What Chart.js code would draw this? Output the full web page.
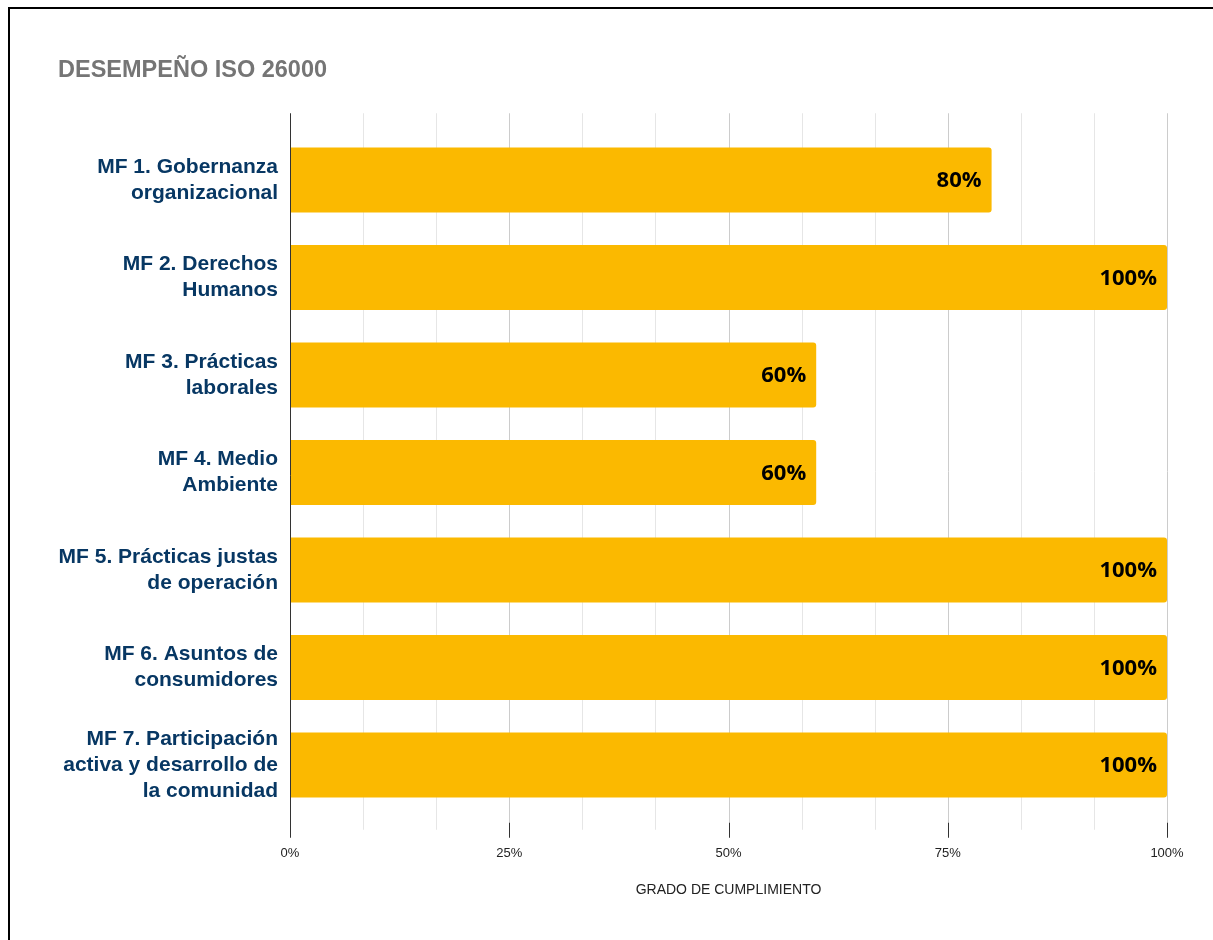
<!DOCTYPE html>
<html>
<head>
<meta charset="utf-8">
<script src="https://cdn.jsdelivr.net/npm/chart.js@4"></script>
<style>
    html, body { margin: 0; padding: 0; background: #fff; overflow: hidden; }
    #frame { position: absolute; left: 8px; top: 7px; width: 1300px; height: 1000px; border: 2px solid #000; }
    #wrap { position: absolute; left: 0; top: 0; width: 1213px; height: 940px; }
</style>
</head>
<body>
<div id="frame"></div>
<div id="wrap"><canvas id="chart"></canvas></div>
<script>
// Chart data
const categories = [
    ['MF 1. Gobernanza', 'organizacional'],
    ['MF 2. Derechos', 'Humanos'],
    ['MF 3. Prácticas', 'laborales'],
    ['MF 4. Medio', 'Ambiente'],
    ['MF 5. Prácticas justas', 'de operación'],
    ['MF 6. Asuntos de', 'consumidores'],
    ['MF 7. Participación', 'activa y desarrollo de', 'la comunidad']
];
const compliance = [80, 100, 60, 60, 100, 100, 100];
const tickValues = [0, 25, 50, 75, 100];
const minorStep = 25 / 3;

const chartTitle = 'DESEMPEÑO ISO 26000';
const axisTitle = 'GRADO DE CUMPLIMIENTO';

// Vertical grid lines that run a bit past the plot area, like the original
const gridPlugin = {
    id: 'gridLines',
    beforeDatasetsDraw(chart) {
        const { ctx, chartArea } = chart;
        const xScale = chart.scales.x;
        const top = chartArea.top - 18;
        const bottom = chartArea.bottom + 16;
        ctx.save();
        ctx.lineWidth = 1;
        for (let i = 1; i <= 12; i++) {
            const v = i * minorStep;
            const x = Math.round(xScale.getPixelForValue(v)) + 0.5;
            const major = i % 3 === 0;
            ctx.strokeStyle = major ? '#cccccc' : '#e6e6e6';
            ctx.beginPath();
            ctx.moveTo(x, top);
            ctx.lineTo(x, bottom);
            ctx.stroke();
            if (major) {
                ctx.strokeStyle = '#333333';
                ctx.beginPath();
                ctx.moveTo(x, bottom - 7);
                ctx.lineTo(x, bottom + 8);
                ctx.stroke();
            }
        }
        ctx.restore();
    },
    afterDatasetsDraw(chart) {
        const { ctx, chartArea } = chart;
        const x = Math.round(chart.scales.x.getPixelForValue(0)) + 0.5;
        ctx.save();
        ctx.strokeStyle = '#333333';
        ctx.lineWidth = 1;
        ctx.beginPath();
        ctx.moveTo(x, chartArea.top - 18);
        ctx.lineTo(x, chartArea.bottom + 24);
        ctx.stroke();
        ctx.restore();
    }
};

// Value labels inside the bar ends
const valueLabels = {
    id: 'valueLabels',
    afterDatasetsDraw(chart) {
        const { ctx } = chart;
        const meta = chart.getDatasetMeta(0);
        ctx.save();
        ctx.font = 'bold 22px "Open Sans"';
        ctx.fillStyle = '#000000';
        ctx.textAlign = 'right';
        ctx.textBaseline = 'middle';
        meta.data.forEach((bar, i) => {
            ctx.fillText(compliance[i] + '%', bar.x - 10, bar.y + 1);
        });
        ctx.restore();
    }
};

const ctx = document.getElementById('chart').getContext('2d');
new Chart(ctx, {
    type: 'bar',
    data: {
        labels: categories,
        datasets: [{
            data: compliance,
            backgroundColor: '#fbb900',
            borderRadius: 3,
            borderSkipped: 'start',
            categoryPercentage: 1,
            barPercentage: 0.667
        }]
    },
    options: {
        indexAxis: 'y',
        responsive: true,
        maintainAspectRatio: false,
        devicePixelRatio: 1,
        animation: false,
        layout: {
            padding: { left: 58, right: 46, top: 56.4, bottom: 0 }
        },
        plugins: {
            legend: { display: false },
            tooltip: { enabled: false },
            title: {
                display: true,
                text: chartTitle,
                align: 'start',
                color: '#757575',
                font: { family: '"Liberation Sans", Arial, sans-serif', size: 23.5, weight: 'bold', lineHeight: 1.2 },
                padding: { top: 0, bottom: 46.65 }
            }
        },
        scales: {
            x: {
                min: 0,
                max: 100,
                afterBuildTicks(scale) {
                    scale.ticks = tickValues.map(v => ({ value: v }));
                },
                afterFit(scale) {
                    scale.height = 126.25;
                    scale.paddingLeft = 0;
                    scale.paddingRight = 0;
                },
                grid: { display: false, drawTicks: false },
                border: { display: false },
                ticks: {
                    padding: 32,
                    color: '#222222',
                    font: { family: '"Liberation Sans", Arial, sans-serif', size: 13 },
                    callback: v => v + '%'
                },
                title: {
                    display: true,
                    text: axisTitle,
                    color: '#222222',
                    font: { family: '"Liberation Sans", Arial, sans-serif', size: 14, lineHeight: 1.2 },
                    padding: { top: 0, bottom: 41.6 }
                }
            },
            y: {
                afterFit(scale) {
                    scale.width = 232;
                },
                grid: { display: false, drawTicks: false },
                border: { display: false },
                ticks: {
                    padding: 12,
                    color: '#073763',
                    font: { family: '"Liberation Sans", Arial, sans-serif', size: 21, weight: 'bold', lineHeight: 1.25 }
                }
            }
        }
    },
    plugins: [gridPlugin, valueLabels]
});
</script>
</body>
</html>
